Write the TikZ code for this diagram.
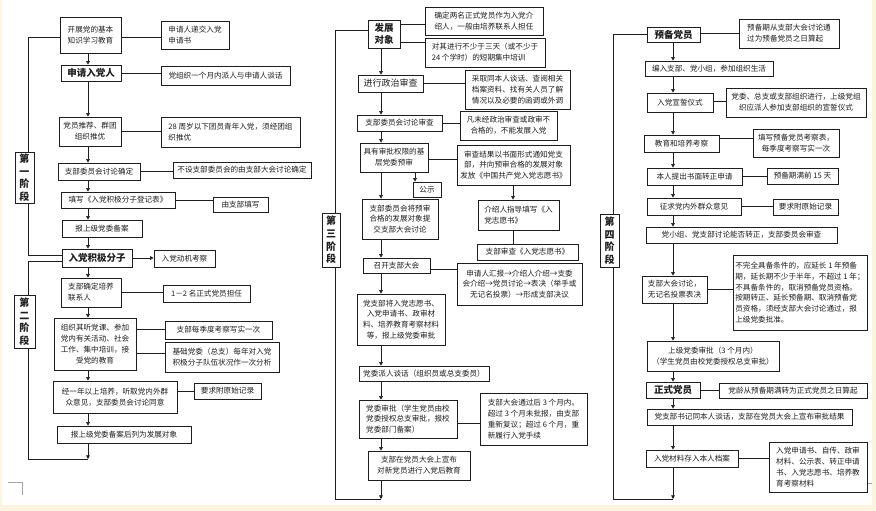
\documentclass[tikz,border=0pt]{standalone}
\usepackage{fontspec}
\setmainfont{Noto Sans CJK SC}
\usetikzlibrary{arrows.meta}
\definecolor{cream}{RGB}{253,244,224}
\definecolor{ink}{RGB}{30,30,30}
\newcommand\mybox[7][box]{\node[#1,minimum width={(#5-#3)*1pt},minimum height={(#6-#4)*1pt}] (#2) at ({(#3+#5)/2},{(#4+#6)/2}) {#7};}
\newcommand\hl[3][0]{\coordinate (tmp) at ([yshift=#1pt]#2.east); \draw[ln] (tmp) -- (tmp -| #3.west);}
\tikzset{
 box/.style={draw=ink, line width=0.65pt, fill=white, inner sep=1pt, align=center, text=ink, font=\fontsize{7.6}{10.8}\selectfont},
 lbox/.style={box, align=left},
 hbox/.style={box, font=\fontsize{9.5}{12}\selectfont\bfseries},
 mbox/.style={box, font=\fontsize{9}{11}\selectfont},
 sbox/.style={box, font=\fontsize{10}{12.6}\selectfont\bfseries},
 ln/.style={draw=ink, line width=0.65pt},
 arr/.style={ln, -{Triangle[length=3.6pt,width=3.6pt]}},
 cropmark/.style={draw=black!35, line width=0.5pt},
}
\begin{document}
\begin{tikzpicture}[x=1pt,y=-1pt]
\fill[cream] (0,0) rectangle (876,511);
\fill[white] (2,0) rectangle (872,505);
\useasboundingbox (0,0) rectangle (876,511);
\draw[cropmark] (8,482) -- (22,482) -- (22,495);
\draw[cropmark] (867,483) -- (872,483);
% ---------------- column 1 ----------------
\coordinate (x1) at (88,0);
\coordinate (s1) at (28,0);
\mybox{a1}{60}{17}{121}{53}{开展党的基本\\知识学习教育}
\mybox[lbox]{a1s}{161}{21}{229}{49}{申请人递交入党\\申请书}
\mybox[hbox]{a2}{61}{65}{121}{81}{申请入党人}
\mybox{a2s}{161}{66}{290}{85}{党组织一个月内派人与申请人谈话}
\mybox{a3}{59}{117}{121}{146}{党员推荐、群团\\组织推优}
\mybox[lbox]{a3s}{161}{117}{300}{147}{28 周岁以下团员青年入党，须经团组\\织推优}
\mybox{a4}{58}{163}{140}{180}{支部委员会讨论确定}
\mybox{a4s}{173}{162}{311}{178}{不设支部委员会的由支部大会讨论确定}
\mybox{a5}{61}{192}{175}{208}{填写《入党积极分子登记表》}
\mybox{a5s}{213}{197}{268}{212}{由支部填写}
\mybox{a6}{62}{220}{142}{237}{报上级党委备案}
\mybox[hbox]{b1}{62}{249}{132}{267}{入党积极分子}
\mybox{b1s}{154}{250}{215}{267}{入党动机考察}
\mybox[lbox]{b2}{61}{278}{121}{307}{支部确定培养\\联系人}
\mybox{b2s}{163}{285}{250}{302}{1－2 名正式党员担任}
\mybox{b3}{54}{318}{136}{370}{组织其听党课、参加\\党内有关活动、社会\\工作、集中培训，接\\受党的教育}
\mybox{b3s1}{165}{321}{272}{339}{支部每季度考察写实一次}
\mybox{b3s2}{165}{342}{279}{372}{基础党委（总支）每年对入党\\积极分子队伍状况作一次分析}
\mybox{b4}{53}{381}{177}{413}{经一年以上培养，听取党内外群\\众意见，支部委员会讨论同意}
\mybox{b4s}{194}{383}{261}{399}{要求附原始记录}
\mybox{b5}{57}{426}{191}{443}{报上级党委备案后列为发展对象}
\draw[arr] (a1.south -| x1) -- (a2.north -| x1);
\draw[arr] (a2.south -| x1) -- (a3.north -| x1);
\draw[arr] (a3.south -| x1) -- (a4.north -| x1);
\draw[arr] (a4.south -| x1) -- (a5.north -| x1);
\draw[arr] (a5.south -| x1) -- (a6.north -| x1);
\draw[arr] (a6.south -| x1) -- (b1.north -| x1);
\draw[arr] (b1.south -| x1) -- (b2.north -| x1);
\draw[arr] (b2.south -| x1) -- (b3.north -| x1);
\draw[arr] (b3.south -| x1) -- (b4.north -| x1);
\draw[arr] (b4.south -| x1) -- (b5.north -| x1);
\hl[-2]{a1}{a1s}
\hl{a2}{a2s}
\hl{a3}{a3s}
\hl{a4}{a4s}
\hl{a5}{a5s}
\draw[arr] (b1.east) -- (b1.east -| b1s.west);
\hl{b2}{b2s}
\hl[15]{b3}{b3s1}
\hl[-9]{b3}{b3s2}
\hl[6]{b4}{b4s}
\coordinate (p1) at ([yshift=-2pt]a1.west);
\coordinate (q1) at ([yshift=3pt]b1.west);
\draw[ln] (p1) -- (p1 -| s1) -- (q1 -| s1) -- (q1);
\coordinate (r1) at ([yshift=-3pt]b1.west);
\coordinate (e2) at (88,459);
\draw[ln] (r1) -- (r1 -| s1) -- (e2 -| s1) -- (e2);
\draw[arr] (b5.south -| x1) -- (e2);
% ---------------- column 2 ----------------
\coordinate (x2) at (381,0);
\coordinate (s3) at (335,0);
\coordinate (x2b) at (513,0);
\mybox[hbox]{c1}{368}{20}{400}{48}{发展\\对象}
\mybox[lbox]{c1s1}{425}{7}{543}{35}{确定两名正式党员作为入党介\\绍人，一般由培养联系人担任}
\mybox[lbox]{c1s2}{425}{38}{545}{67}{对其进行不少于三天（或不少于\\24 个学时）的短期集中培训}
\mybox[mbox]{c2}{358}{75}{423}{92}{进行政治审查}
\mybox{c2s}{465}{70}{570}{109}{采取同本人谈话、查阅相关\\档案资料、找有关人员了解\\情况以及必要的函调或外调}
\mybox{c3}{357}{115}{442}{131}{支部委员会讨论审查}
\mybox{c3s}{460}{111}{557}{140}{凡未经政治审查或政审不\\合格的，不能发展入党}
\mybox{c4}{360}{143}{428}{172}{具有审批权限的基\\层党委预审}
\mybox{c4s}{457}{145}{570}{185}{审查结果以书面形式通知党支\\部，并向预审合格的发展对象\\发放《中国共产党入党志愿书》}
\mybox{gs}{413}{182}{441}{197}{公示}
\mybox{c5}{362}{199}{438}{239}{支部委员会将预审\\合格的发展对象提\\交支部大会讨论}
\mybox[lbox]{c4t}{478}{200}{559}{230}{介绍人指导填写《入\\党志愿书》}
\mybox{c4u}{477}{244}{578}{260}{支部审查《入党志愿书》}
\mybox{c6}{363}{258}{430}{273}{召开支部大会}
\mybox{c6s}{457}{263}{582}{305}{申请人汇报→介绍人介绍→支委\\会介绍→党员讨论→表决（举手或\\无记名投票）→形成支部决议}
\mybox{c7}{357}{294}{445}{345}{党支部将入党志愿书、\\入党申请书、政审材\\料、培养教育考察材料\\等，报上级党委审批}
\mybox{c8}{359}{366}{489}{381}{党委派人谈话（组织员或总支委员）}
\mybox[lbox]{c9}{359}{400}{457}{438}{党委审批（学生党员由校\\党委授权总支审批，报校\\党委部门备案）}
\mybox[lbox]{c9s}{480}{393}{587}{445}{支部大会通过后 3 个月内。\\超过 3 个月未批报，由支部\\重新复议；超过 6 个月，重\\新履行入党手续}
\mybox{c10}{368}{451}{470}{480}{支部在党员大会上宣布\\对新党员进行入党后教育}
\draw[arr] (c1.south -| x2) -- (c2.north -| x2);
\draw[arr] (c2.south -| x2) -- (c3.north -| x2);
\draw[arr] (c3.south -| x2) -- (c4.north -| x2);
\draw[arr] (c4.south -| x2) -- (c5.north -| x2);
\draw[arr] (c5.south -| x2) -- (c6.north -| x2);
\draw[arr] (c6.south -| x2) -- (c7.north -| x2);
\draw[arr] (c7.south -| x2) -- (c8.north -| x2);
\draw[arr] (c8.south -| x2) -- (c9.north -| x2);
\draw[arr] (c9.south -| x2) -- (c10.north -| x2);
\coordinate (g1) at ([xshift=-12pt]gs.north);
\draw[arr] (g1 |- c4.south) -- (g1);
\draw[arr] (c4s.south -| x2b) -- (c4t.north -| x2b);
\draw[ln] (c4t.south -| x2b) -- (c4u.north -| x2b);
\hl[10]{c1}{c1s1}
\hl[-8]{c1}{c1s2}
\hl{c2}{c2s}
\hl{c3}{c3s}
\hl[-2]{c4}{c4s}
\hl[-3.5]{c6}{c6s}
\hl[-4]{c9}{c9s}
\coordinate (p3) at ([yshift=4pt]c1.west);
\coordinate (e3) at (381,499);
\draw[ln] (p3) -- (p3 -| s3) -- (e3 -| s3) -- (e3);
\draw[arr] (c10.south -| x2) -- (e3);
% ---------------- column 3 ----------------
\coordinate (x3) at (673,0);
\coordinate (s4) at (613,0);
\mybox[hbox]{d1}{647}{27}{700}{42}{预备党员}
\mybox[lbox]{d1s}{739}{19}{839}{48}{预备期从支部大会讨论通\\过为预备党员之日算起}
\mybox{d2}{645}{61}{773}{76}{编入支部、党小组，参加组织生活}
\mybox{d3}{647}{93}{713}{112}{入党宣誓仪式}
\mybox{d3s}{726}{88}{866}{117}{党委、总支或支部组织进行，上级党组\\织应派人参加支部组织的宣誓仪式}
\mybox{d4}{644}{135}{719}{152}{教育和培养考察}
\mybox{d4s}{753}{129}{839}{157}{填写预备党员考察表，\\每季度考察写实一次}
\mybox{d5}{647}{168}{742}{185}{本人提出书面转正申请}
\mybox{d5s}{767}{168}{838}{184}{预备期满前 15 天}
\mybox{d6}{647}{198}{741}{215}{征求党内外群众意见}
\mybox{d6s}{773}{199}{838}{215}{要求附原始记录}
\mybox{d7}{646}{227}{837}{243}{党小组、党支部讨论能否转正，支部委员会审查}
\mybox[lbox]{d8}{642}{276}{707}{303}{支部大会讨论，\\无记名投票表决}
\mybox[lbox]{d8s}{733}{255}{867}{330}{不完全具备条件的，应延长 1 年预备\\期，延长期不少于半年，不超过 1 年；\\不具备条件的，取消预备党员资格。\\按期转正、延长预备期、取消预备党\\员资格，须经支部大会讨论通过，报\\上级党委批准。}
\mybox{d9}{647}{341}{779}{371}{上级党委审批（3 个月内）\\（学生党员由校党委授权总支审批）}
\mybox[hbox]{d10}{646}{382}{700}{398}{正式党员}
\mybox{d10s}{719}{383}{867}{398}{党龄从预备期满转为正式党员之日算起}
\mybox{d11}{647}{409}{852}{425}{党支部书记同本人谈话，支部在党员大会上宣布审批结果}
\mybox{d12}{646}{450}{738}{467}{入党材料存入本人档案}
\mybox[lbox]{d12s}{769}{442}{867}{492}{入党申请书、自传、政审\\材料、公示表、转正申请\\书、入党志愿书、培养教\\育考察材料}
\draw[arr] (d1.south -| x3) -- (d2.north -| x3);
\draw[arr] (d2.south -| x3) -- (d3.north -| x3);
\draw[arr] (d3.south -| x3) -- (d4.north -| x3);
\draw[arr] (d4.south -| x3) -- (d5.north -| x3);
\draw[arr] (d5.south -| x3) -- (d6.north -| x3);
\draw[arr] (d6.south -| x3) -- (d7.north -| x3);
\draw[arr] (d7.south -| x3) -- (d8.north -| x3);
\draw[arr] (d8.south -| x3) -- (d9.north -| x3);
\draw[arr] (d9.south -| x3) -- (d10.north -| x3);
\draw[arr] (d10.south -| x3) -- (d11.north -| x3);
\draw[arr] (d11.south -| x3) -- (d12.north -| x3);
\hl[1.5]{d1}{d1s}
\hl[1.5]{d3}{d3s}
\hl[5]{d4}{d4s}
\hl{d5}{d5s}
\hl{d6}{d6s}
\hl{d8}{d8s}
\hl{d10}{d10s}
\hl{d12}{d12s}
\coordinate (p4) at (d1.west);
\coordinate (e4) at (673,499);
\draw[ln] (p4) -- (p4 -| s4) -- (e4 -| s4) -- (e4);
\draw[arr] (d12.south -| x3) -- (e4);
% ---------------- stage labels ----------------
\mybox[sbox]{st1}{15}{152}{34}{203}{第\\一\\阶\\段}
\mybox[sbox]{st2}{14}{295}{35}{348}{第\\二\\阶\\段}
\mybox[sbox]{st3}{322}{213}{340}{267}{第\\三\\阶\\段}
\mybox[sbox]{st4}{600}{214}{619}{267}{第\\四\\阶\\段}
\end{tikzpicture}
\end{document}
